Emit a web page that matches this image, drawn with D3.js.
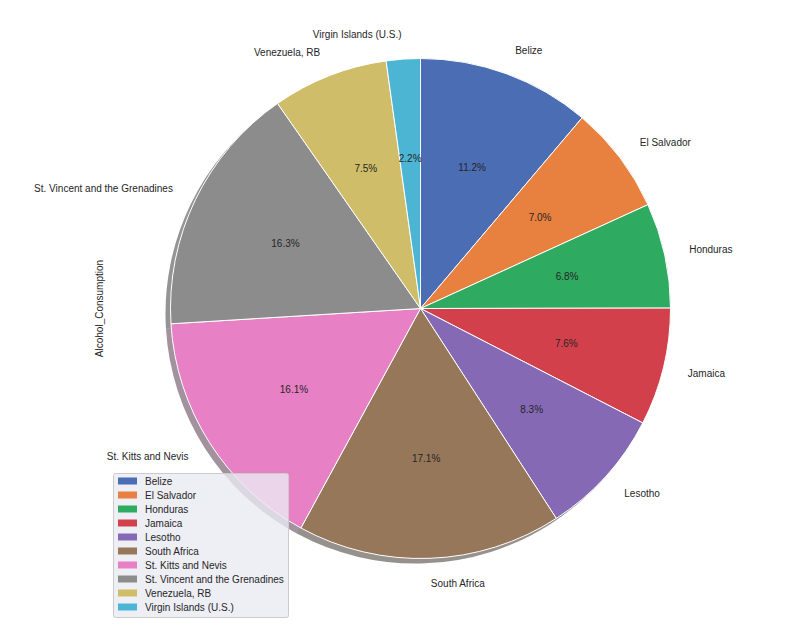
<!DOCTYPE html>
<html>
<head>
<meta charset="utf-8">
<script src="https://cdn.jsdelivr.net/npm/d3@7"></script>
<style>
  body { margin: 0; background: #fff; }
  svg { display: block; }
  text { font-family: "Liberation Sans", Arial, sans-serif; fill: #262626; }
</style>
</head>
<body>
<svg id="chart" width="810" height="627"></svg>
<script>
const categories = ["Belize", "El Salvador", "Honduras", "Jamaica", "Lesotho", "South Africa",
  "St. Kitts and Nevis", "St. Vincent and the Grenadines", "Venezuela, RB", "Virgin Islands (U.S.)"];
const values = [11.2, 7.0, 6.8, 7.6, 8.3, 17.1, 16.1, 16.3, 7.5, 2.2];
const colors = ["#4A6DB4", "#E8803F", "#2FAA61", "#D2414B", "#8569B5", "#96775A",
  "#E880C5", "#8C8C8C", "#CFBD69", "#4BB5D3"];
const yLabel = "Alcohol_Consumption";

const svg = d3.select("#chart");
const cx = 420.5, cy = 308.5, R = 250;
const total = d3.sum(values);

const pie = d3.pie().sort(null).startAngle(0).endAngle(2 * Math.PI);
const arcs = pie(values);
const arc = d3.arc().innerRadius(0).outerRadius(R);

const g = svg.append("g").attr("transform", `translate(${cx},${cy})`);

// shadow
const sh = g.append("g").attr("transform", "translate(-5,5)");
sh.selectAll("path").data(arcs).join("path")
  .attr("d", arc)
  .attr("fill", (d, i) => { const c = d3.rgb(colors[i]); return d3.rgb(c.r * 0.3, c.g * 0.3, c.b * 0.3); })
  .attr("opacity", 0.5);

// wedges
g.selectAll("path.w").data(arcs).join("path")
  .attr("class", "w")
  .attr("d", arc)
  .attr("fill", (d, i) => colors[i])
  .attr("stroke", "#fff")
  .attr("stroke-width", 1)
  .attr("stroke-linejoin", "round");

const mid = d => (d.startAngle + d.endAngle) / 2;

// outer labels
g.selectAll("text.lab").data(arcs).join("text")
  .attr("class", "lab")
  .attr("x", d => 1.1 * R * Math.sin(mid(d)))
  .attr("y", d => -1.1 * R * Math.cos(mid(d)))
  .attr("text-anchor", d => Math.sin(mid(d)) >= 0 ? "start" : "end")
  .attr("dominant-baseline", "central")
  .attr("font-size", "10px")
  .text((d, i) => categories[i]);

// percent labels
g.selectAll("text.pct").data(arcs).join("text")
  .attr("class", "pct")
  .attr("x", d => 0.6 * R * Math.sin(mid(d)))
  .attr("y", d => -0.6 * R * Math.cos(mid(d)))
  .attr("text-anchor", "middle")
  .attr("dominant-baseline", "central")
  .attr("font-size", "10px")
  .text(d => d3.format(".1f")(d.value / total * 100) + "%");

// y label
svg.append("text")
  .attr("transform", `translate(103,${cy}) rotate(-90)`)
  .attr("text-anchor", "middle")
  .attr("font-size", "10px")
  .text(yLabel);

// legend
const lg = svg.append("g").attr("transform", "translate(113,473)");
lg.append("rect")
  .attr("x", 0.5).attr("y", 0.5)
  .attr("width", 175).attr("height", 144)
  .attr("rx", 2)
  .attr("fill", "#EAEAF2").attr("fill-opacity", 0.8)
  .attr("stroke", "#CCCCCC").attr("stroke-width", 1);
const items = lg.selectAll("g.item").data(categories).join("g")
  .attr("class", "item")
  .attr("transform", (d, i) => `translate(0,${8 + i * 14})`);
items.append("rect")
  .attr("x", 5).attr("y", -3.5)
  .attr("width", 19).attr("height", 7)
  .attr("fill", (d, i) => colors[i]);
items.append("text")
  .attr("x", 32).attr("y", 0)
  .attr("dominant-baseline", "central")
  .attr("font-size", "10px")
  .text(d => d);
</script>
</body>
</html>
